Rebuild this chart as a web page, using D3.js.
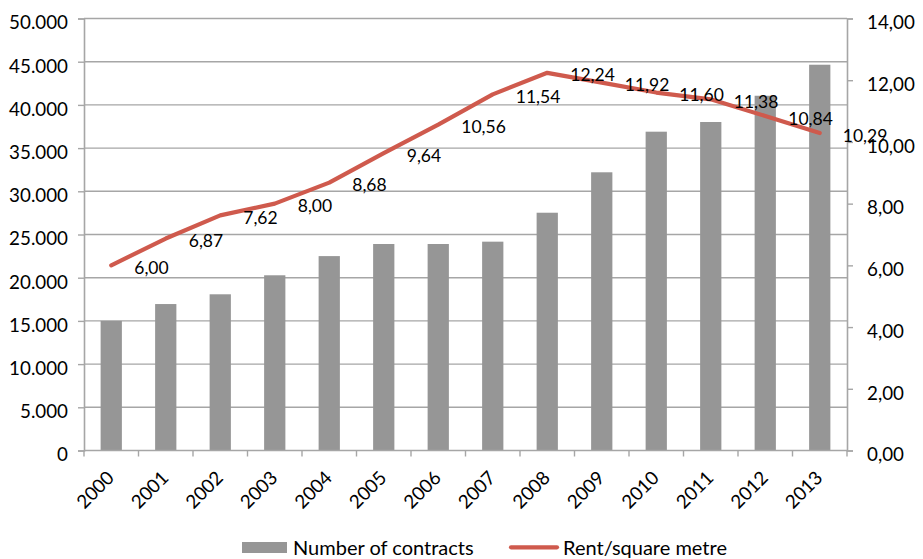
<!DOCTYPE html>
<html>
<head>
<meta charset="utf-8">
<script src="https://cdn.jsdelivr.net/npm/d3@7"></script>
<style>
  html, body { margin: 0; padding: 0; background: #ffffff; }
  svg { display: block; }
  text { font-family: Lato, "Open Sans", sans-serif; fill: #000; }
</style>
</head>
<body>
<svg id="chart" width="923" height="559"></svg>
<script>
// Yearly series
const years = ["2000","2001","2002","2003","2004","2005","2006","2007","2008","2009","2010","2011","2012","2013"];
const contracts = [15000, 16950, 18080, 20280, 22500, 23900, 23900, 24170, 27520, 32200, 36900, 38020, 41060, 44650];
const rentPerSqm = [6.00, 6.87, 7.62, 8.00, 8.68, 9.64, 10.56, 11.54, 12.24, 11.92, 11.60, 11.38, 10.84, 10.29];

// Axis ticks
const leftTicks = [0, 5000, 10000, 15000, 20000, 25000, 30000, 35000, 40000, 45000, 50000];
const rightTicks = [0, 2, 4, 6, 8, 10, 12, 14];

const seriesNames = ["Number of contracts", "Rent/square metre"];

const svg = d3.select("#chart");
const plot = { left: 84, right: 847, top: 18.5, bottom: 450.5 };
const gridColor = "#a6a6a6";
const barColor = "#969696";
const lineColor = "#cf5a4d";

const x = d3.scaleBand().domain(years).range([plot.left, plot.right])
  .paddingInner(0.61).paddingOuter(0.305);
const yL = d3.scaleLinear().domain([0, 50000]).range([plot.bottom, plot.top]);
const yR = d3.scaleLinear().domain([0, 14]).range([plot.bottom, plot.top]);

const locale = d3.formatLocale({ decimal: ",", thousands: ".", grouping: [3], currency: ["", ""] });
const fmtThousands = locale.format(",.0f");
const fmtDec = locale.format(".2f");

// Horizontal gridlines
svg.append("g").selectAll("line").data(leftTicks.filter(d => d > 0)).join("line")
  .attr("x1", plot.left).attr("x2", plot.right)
  .attr("y1", d => yL(d)).attr("y2", d => yL(d))
  .attr("stroke", gridColor).attr("stroke-width", 1.4);

// Bars
svg.append("g").selectAll("rect").data(years).join("rect")
  .attr("x", d => x(d))
  .attr("width", x.bandwidth())
  .attr("y", (d, i) => yL(contracts[i]))
  .attr("height", (d, i) => plot.bottom - yL(contracts[i]))
  .attr("fill", barColor);

// Left axis
const gL = svg.append("g").attr("transform", `translate(${plot.left},0)`)
  .call(d3.axisLeft(yL).tickValues(leftTicks).tickFormat(fmtThousands).tickSize(6).tickPadding(10));
gL.select(".domain").attr("stroke", gridColor).attr("stroke-width", 1.6);
gL.selectAll(".tick line").attr("stroke", gridColor).attr("stroke-width", 1.4);
gL.selectAll(".tick text").attr("font-size", 18.8).attr("font-family", "Lato").attr("fill", "#000").attr("dy", "0.55em");

// Right axis
const gR = svg.append("g").attr("transform", `translate(${plot.right},0)`)
  .call(d3.axisRight(yR).tickValues(rightTicks).tickFormat(fmtDec).tickSize(6).tickPadding(14));
gR.select(".domain").attr("stroke", gridColor).attr("stroke-width", 1.6);
gR.selectAll(".tick line").attr("stroke", gridColor).attr("stroke-width", 1.4);
gR.selectAll(".tick text").attr("font-size", 18.8).attr("font-family", "Lato").attr("fill", "#000").attr("dy", "0.55em");

// Bottom axis: ticks at category boundaries
const step = x.step();
const boundaries = d3.range(years.length + 1).map(i => plot.left + i * step);
const gB = svg.append("g");
gB.append("line").attr("x1", plot.left).attr("x2", plot.right)
  .attr("y1", plot.bottom).attr("y2", plot.bottom)
  .attr("stroke", gridColor).attr("stroke-width", 1.6);
gB.selectAll("line.tk").data(boundaries).join("line").attr("class", "tk")
  .attr("x1", d => d).attr("x2", d => d)
  .attr("y1", plot.bottom).attr("y2", plot.bottom + 6)
  .attr("stroke", gridColor).attr("stroke-width", 1.4);
gB.selectAll("text").data(years).join("text")
  .attr("transform", d => `translate(${x(d) + x.bandwidth() / 2 + 4},479) rotate(-45)`)
  .attr("text-anchor", "end")
  .attr("font-size", 18.8)
  .text(d => d);

// Rent line
const cx = d => x(d) + x.bandwidth() / 2;
const line = d3.line().x((d, i) => cx(years[i])).y(d => yR(d));
svg.append("path").datum(rentPerSqm)
  .attr("d", line)
  .attr("fill", "none")
  .attr("stroke", lineColor)
  .attr("stroke-width", 4.2)
  .attr("stroke-linejoin", "round")
  .attr("stroke-linecap", "round");

// Value labels for the rent line
svg.append("g").selectAll("text").data(rentPerSqm).join("text")
  .attr("x", (d, i) => cx(years[i]) + 23)
  .attr("y", d => yR(d) + 2.5)
  .attr("dy", "0.35em")
  .attr("font-size", 17.5)
  .text(d => fmtDec(d));

// Legend
const lg = svg.append("g");
lg.append("rect").attr("x", 242).attr("y", 542).attr("width", 45).attr("height", 11).attr("fill", barColor);
lg.append("text").attr("x", 293).attr("y", 555).attr("font-size", 20).text(seriesNames[0]);
lg.append("line").attr("x1", 511).attr("x2", 557).attr("y1", 547.3).attr("y2", 547.3)
  .attr("stroke", lineColor).attr("stroke-width", 4.2).attr("stroke-linecap", "round");
lg.append("text").attr("x", 563).attr("y", 555).attr("font-size", 20).text(seriesNames[1]);
</script>
</body>
</html>
